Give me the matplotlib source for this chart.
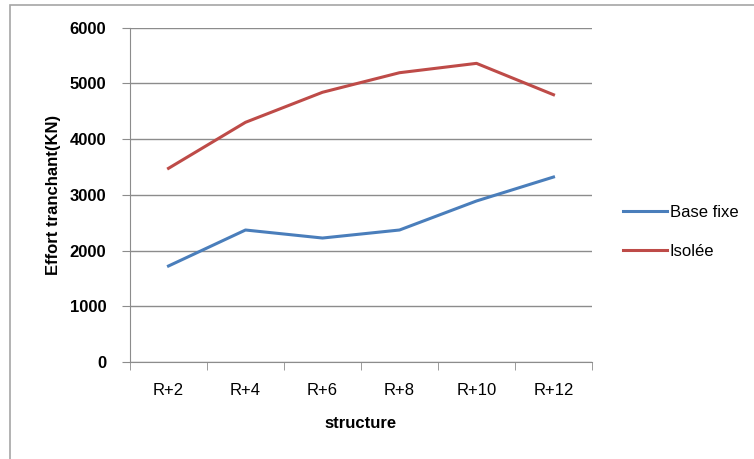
import matplotlib
matplotlib.use('Agg')
import matplotlib.pyplot as plt
from matplotlib.patches import Rectangle
import numpy as np

plt.rcParams['font.family'] = ['Liberation Sans', 'DejaVu Sans']

categories = ["R+2", "R+4", "R+6", "R+8", "R+10", "R+12"]
base_fixe = [1723, 2369, 2225, 2369, 2890, 3320]
isolee = [3476, 4302, 4841, 5192, 5360, 4797]

fig = plt.figure(figsize=(7.54, 4.59), dpi=100)
fig.patch.set_facecolor('white')

# outer chart border like the Excel chart area
fig.add_artist(Rectangle((10 / 754, -0.05), 1.2, (459 - 5) / 459 + 0.05,
                         transform=fig.transFigure, fill=False,
                         edgecolor='#a6a6a6', linewidth=1.2))

ax = fig.add_axes([130 / 754, 97 / 459, 462 / 754, 334.3 / 459])
x = np.arange(len(categories))
ax.plot(x, base_fixe, color='#4a7ebb', linewidth=2.2, label='Base fixe')
ax.plot(x, isolee, color='#be4b48', linewidth=2.2, label='Isolée')

ax.set_xlim(-0.5, len(categories) - 0.5)
ax.set_ylim(0, 6000)
ax.set_yticks(range(0, 6001, 1000))
ax.yaxis.grid(True, color='#8c8c8c', linewidth=1)
ax.set_axisbelow(True)

ax.set_xticks(x)
ax.set_xticklabels(categories, fontsize=12)
ax.set_xticks(np.arange(-0.5, len(categories)), minor=True)
ax.tick_params(axis='x', which='major', length=0, pad=15)
ax.tick_params(axis='x', which='minor', length=6, color='#8c8c8c', direction='out')
ax.tick_params(axis='y', length=6, color='#8c8c8c', labelsize=12, pad=11)
for lbl in ax.get_yticklabels():
    lbl.set_fontweight('bold')

for s in ['top', 'right']:
    ax.spines[s].set_visible(False)
for s in ['left', 'bottom']:
    ax.spines[s].set_color('#8c8c8c')

ax.set_ylabel('Effort tranchant(KN)', fontsize=12, fontweight='bold', labelpad=6)
ax.set_xlabel('structure', fontsize=12, fontweight='bold', labelpad=13)

ax.legend(loc='center left', bbox_to_anchor=(1.035, 0.39), frameon=False,
          fontsize=12, handlelength=2.6, handletextpad=0.2, labelspacing=1.45)

fig.savefig('out.png', dpi=100, facecolor='white')
